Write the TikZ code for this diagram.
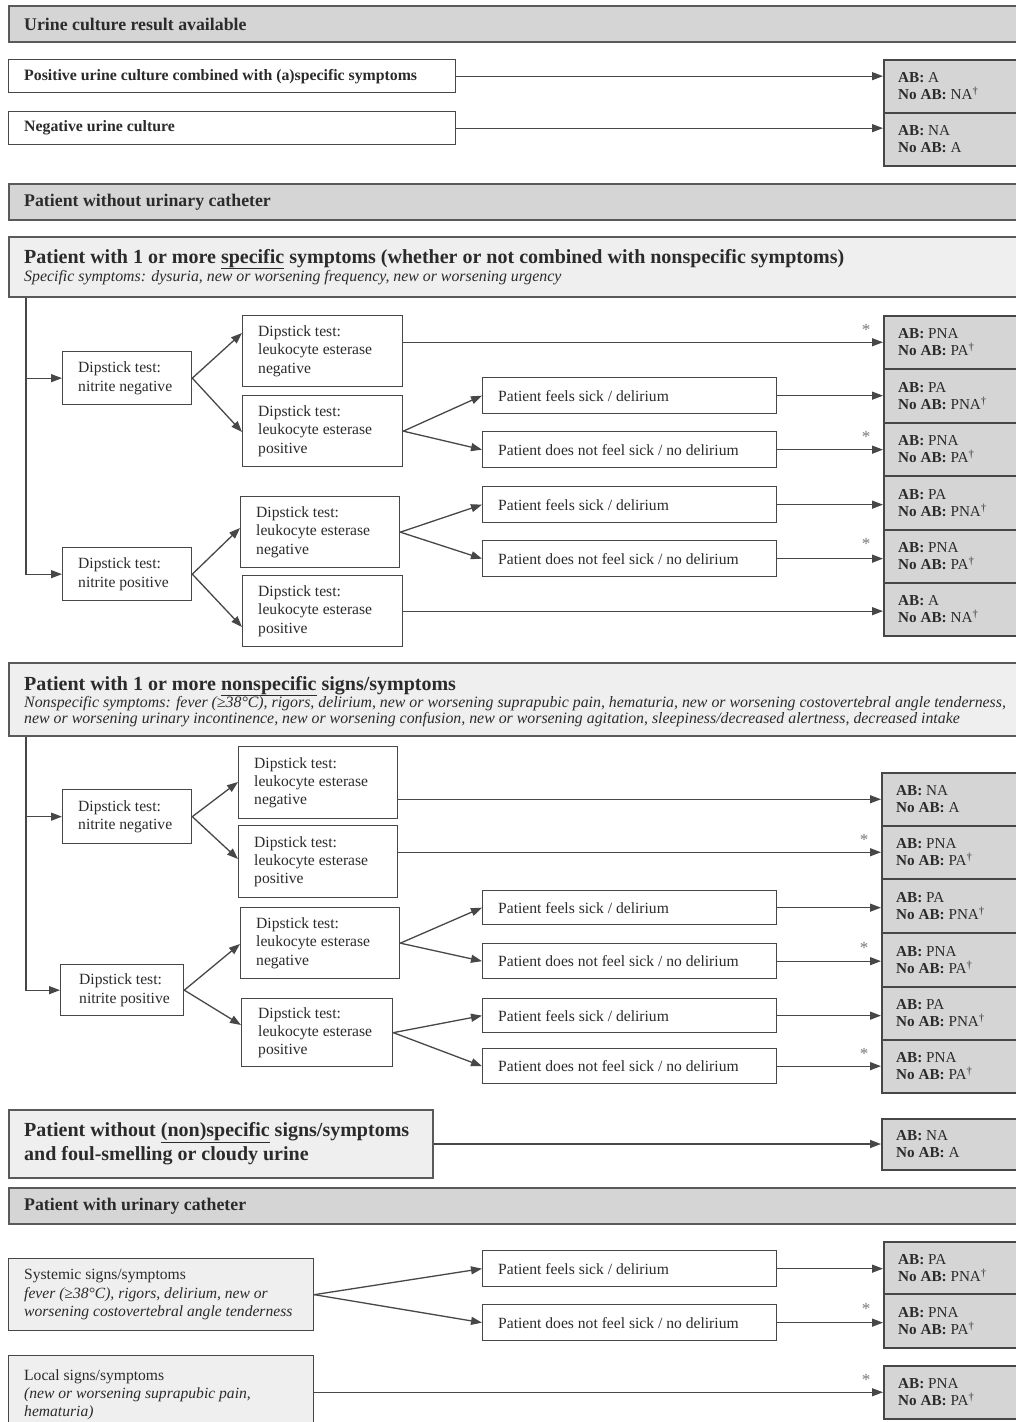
\documentclass[tikz,border=0pt]{standalone}
\usepackage{fontspec}
\setmainfont{Liberation Serif}
\usetikzlibrary{arrows.meta,calc}
\definecolor{tc}{HTML}{2B2B2B}
\definecolor{lc}{HTML}{474747}
\definecolor{hl}{HTML}{5A5A5A}
\definecolor{dk}{HTML}{D5D5D5}
\definecolor{lt}{HTML}{EFEFEF}
\definecolor{astc}{HTML}{7A7A7A}
\newcommand\fs[2]{\fontsize{#1}{#2}\selectfont}
\newcommand\dg{\textsuperscript{†}}
\newcommand\abtxt[2]{\textbf{AB:} #1\\\textbf{No AB:} #2}
% name, box style, text style, x, y, w, h, text offset, text
\newcommand\mkbox[9]{%
  \node[#2, anchor=north west, minimum width=#6pt, minimum height=#7pt] (#1) at (#4,#5) {};%
  \node[txt, #3] (#1t) at ([xshift=#8pt]#1.west) {#9};}
\tikzset{
  txt/.style={inner sep=0pt, anchor=west, align=left, text=tc, font=\fs{15.6}{18.3}},
  ht/.style={font=\fs{17.8}{21}\bfseries},
  bt/.style={font=\fs{15.8}{18.3}\bfseries},
  rt/.style={font=\fs{15.2}{17.3}},
  tt/.style={font=\fs{20}{24}\bfseries},
  plain/.style={},
  hdr/.style={draw=hl, line width=2pt, fill=dk, inner sep=0pt},
  sec/.style={draw=hl, line width=2pt, fill=lt, inner sep=0pt},
  wbox/.style={draw=lc, line width=1.3pt, fill=white, inner sep=0pt},
  lbox/.style={draw=lc, line width=1.3pt, fill=lt, inner sep=0pt},
  rbox/.style={draw=lc, line width=1.5pt, fill=dk, inner sep=0pt},
  arr/.style={draw=lc, line width=1.3pt, -{Triangle[length=11pt,width=8pt]}},
  astn/.style={inner sep=0pt, text=astc, font=\fs{17}{17}},
}
\begin{document}
\begin{tikzpicture}[x=1pt,y=-1pt]
\useasboundingbox (0,0) rectangle (1016,1422);
\clip (0,0) rectangle (1016,1422);
\fill[white] (0,0) rectangle (1016,1422);

% ---------- urine culture ----------
\mkbox{h1}{hdr}{ht}{8}{5}{1060}{36}{16}{Urine culture result available}
\mkbox{pc}{wbox}{bt}{8}{59}{447}{33}{16}{Positive urine culture combined with (a)specific symptoms}
\mkbox{nc}{wbox}{bt}{8}{111}{447}{33}{16}{Negative urine culture}
\mkbox{ra}{rbox}{rt}{883}{59}{200}{53}{15}{\abtxt{A}{NA\dg}}
\mkbox{rb}{rbox}{rt}{883}{112}{200}{53}{15}{\abtxt{NA}{A}}
\draw[arr] (pc.east) -- (pc.east -| ra.west);
\draw[arr] (nc.east) -- (nc.east -| rb.west);

% ---------- without catheter ----------
\mkbox{h2}{hdr}{ht}{8}{183}{1060}{36}{16}{Patient without urinary catheter}

% section 1
\node[sec, anchor=north west, minimum width=1060pt, minimum height=60pt] (sec1) at (8,236) {};
\node[txt, tt, anchor=base west] (sec1a) at (24,263) {Patient with 1 or more \underline{specific} symptoms (whether or not combined with nonspecific symptoms)};
\node[txt, anchor=base west, font=\fs{15.85}{18.3}\itshape] (sec1b) at (24,281.5) {Specific symptoms: dysuria, new or worsening frequency, new or worsening urgency};

\mkbox{nn1}{wbox}{plain}{62}{351}{129}{53}{16}{Dipstick test:\\nitrite negative}
\mkbox{np1}{wbox}{plain}{62}{547}{129}{53}{16}{Dipstick test:\\nitrite positive}
\mkbox{le1}{wbox}{plain}{242}{315}{160}{71}{16}{Dipstick test:\\leukocyte esterase\\negative}
\mkbox{le2}{wbox}{plain}{242}{395}{160}{71}{16}{Dipstick test:\\leukocyte esterase\\positive}
\mkbox{le3}{wbox}{plain}{240}{496}{159}{71}{16}{Dipstick test:\\leukocyte esterase\\negative}
\mkbox{le4}{wbox}{plain}{242}{575}{160}{71}{16}{Dipstick test:\\leukocyte esterase\\positive}
\mkbox{s1}{wbox}{plain}{482}{377}{294}{36}{16}{Patient feels sick / delirium}
\mkbox{s2}{wbox}{plain}{482}{431}{294}{36}{16}{Patient does not feel sick / no delirium}
\mkbox{s3}{wbox}{plain}{482}{486}{294}{36}{16}{Patient feels sick / delirium}
\mkbox{s4}{wbox}{plain}{482}{540}{294}{36}{16}{Patient does not feel sick / no delirium}
\mkbox{r1}{rbox}{rt}{883}{315}{200}{53}{15}{\abtxt{PNA}{PA\dg}}
\mkbox{r2}{rbox}{rt}{883}{368}{200}{54}{15}{\abtxt{PA}{PNA\dg}}
\mkbox{r3}{rbox}{rt}{883}{422}{200}{53}{15}{\abtxt{PNA}{PA\dg}}
\mkbox{r4}{rbox}{rt}{883}{475}{200}{54}{15}{\abtxt{PA}{PNA\dg}}
\mkbox{r5}{rbox}{rt}{883}{529}{200}{53}{15}{\abtxt{PNA}{PA\dg}}
\mkbox{r6}{rbox}{rt}{883}{582}{200}{53}{15}{\abtxt{A}{NA\dg}}

\coordinate (v1) at ([xshift=18pt]sec1.south west);
\draw[arr] (v1) |- (np1.west);
\draw[arr] (v1 |- nn1.west) -- (nn1.west);
\draw[arr] (nn1.east) -- ([yshift=-18pt]le1.north west);
\draw[arr] (nn1.east) -- ([yshift=-37pt]le2.north west);
\draw[arr] (np1.east) -- ([yshift=-32pt]le3.north west);
\draw[arr] (np1.east) -- ([yshift=-52pt]le4.north west);
\draw[arr] (le1.east |- r1.west) -- (r1.west);
\draw[arr] (le2.east) -- (s1.west);
\draw[arr] (le2.east) -- (s2.west);
\draw[arr] (le3.east) -- (s3.west);
\draw[arr] (le3.east) -- (s4.west);
\draw[arr] (s1.east) -- (s1.east -| r2.west);
\draw[arr] (s2.east) -- (s2.east -| r3.west);
\draw[arr] (s3.east) -- (s3.east -| r4.west);
\draw[arr] (s4.east) -- (s4.east -| r5.west);
\draw[arr] (le4.east) -- (le4.east -| r6.west);
\node[astn] (a1) at ([xshift=-17pt,yshift=12pt]r1.west) {*};
\node[astn] (a2) at ([xshift=-17pt,yshift=12pt]r3.west) {*};
\node[astn] (a3) at ([xshift=-17pt,yshift=12pt]r5.west) {*};

% section 2
\node[sec, anchor=north west, minimum width=1060pt, minimum height=73pt] (sec2) at (8,662) {};
\node[txt, tt, anchor=base west] (sec2a) at (24,690) {Patient with 1 or more \underline{nonspecific} signs/symptoms};
\node[txt, anchor=base west, font=\fs{15.85}{16.5}\itshape] (sec2b) at (24,707) {Nonspecific symptoms: fever (≥38°C), rigors, delirium, new or worsening suprapubic pain, hematuria, new or worsening costovertebral angle tenderness,};
\node[txt, anchor=base west, font=\fs{15.85}{16.5}\itshape] (sec2c) at (24,723.5) {new or worsening urinary incontinence, new or worsening confusion, new or worsening agitation, sleepiness/decreased alertness, decreased intake};

\mkbox{nn2}{wbox}{plain}{62}{789}{129}{54}{16}{Dipstick test:\\nitrite negative}
\mkbox{np2}{wbox}{plain}{60}{964}{123}{51}{19}{Dipstick test:\\nitrite positive}
\mkbox{le5}{wbox}{plain}{238}{746}{159}{72}{16}{Dipstick test:\\leukocyte esterase\\negative}
\mkbox{le6}{wbox}{plain}{238}{825}{159}{72}{16}{Dipstick test:\\leukocyte esterase\\positive}
\mkbox{le7}{wbox}{plain}{240}{907}{159}{71}{16}{Dipstick test:\\leukocyte esterase\\negative}
\mkbox{le8}{wbox}{plain}{241}{998}{151}{68}{17}{Dipstick test:\\leukocyte esterase\\positive}
\mkbox{s5}{wbox}{plain}{482}{890}{294}{34}{16}{Patient feels sick / delirium}
\mkbox{s6}{wbox}{plain}{482}{943}{294}{35}{16}{Patient does not feel sick / no delirium}
\mkbox{s7}{wbox}{plain}{482}{998}{294}{34}{16}{Patient feels sick / delirium}
\mkbox{s8}{wbox}{plain}{482}{1048}{294}{35}{16}{Patient does not feel sick / no delirium}
\mkbox{r7}{rbox}{rt}{881}{772}{200}{53}{15}{\abtxt{NA}{A}}
\mkbox{r8}{rbox}{rt}{881}{825}{200}{53}{15}{\abtxt{PNA}{PA\dg}}
\mkbox{r9}{rbox}{rt}{881}{878}{200}{54}{15}{\abtxt{PA}{PNA\dg}}
\mkbox{r10}{rbox}{rt}{881}{932}{200}{54}{15}{\abtxt{PNA}{PA\dg}}
\mkbox{r11}{rbox}{rt}{881}{986}{200}{53}{15}{\abtxt{PA}{PNA\dg}}
\mkbox{r12}{rbox}{rt}{881}{1039}{200}{53}{15}{\abtxt{PNA}{PA\dg}}

\coordinate (v2) at ([xshift=18pt]sec2.south west);
\draw[arr] (v2) |- (np2.west);
\draw[arr] (v2 |- nn2.west) -- (nn2.west);
\draw[arr] (nn2.east) -- ([yshift=-36pt]le5.north west);
\draw[arr] (nn2.east) -- ([yshift=-34pt]le6.north west);
\draw[arr] (np2.east) -- ([yshift=-37pt]le7.north west);
\draw[arr] (np2.east) -- ([yshift=-27pt]le8.north west);
\draw[arr] (le5.east |- r7.west) -- (r7.west);
\draw[arr] (le6.east |- r8.west) -- (r8.west);
\draw[arr] (le7.east) -- (s5.west);
\draw[arr] (le7.east) -- (s6.west);
\draw[arr] (le8.east) -- (s7.west);
\draw[arr] (le8.east) -- (s8.west);
\draw[arr] (s5.east) -- (s5.east -| r9.west);
\draw[arr] (s6.east) -- (s6.east -| r10.west);
\draw[arr] (s7.east) -- (s7.east -| r11.west);
\draw[arr] (s8.east) -- (s8.east -| r12.west);
\node[astn] (a4) at ([xshift=-17pt,yshift=12pt]r8.west) {*};
\node[astn] (a5) at ([xshift=-17pt,yshift=12pt]r10.west) {*};
\node[astn] (a6) at ([xshift=-17pt,yshift=12pt]r12.west) {*};

% without (non)specific
\mkbox{nos}{sec}{tt}{8}{1109}{424}{68}{16}{Patient without \underline{(non)specific} signs/symptoms\\and foul-smelling or cloudy urine}
\mkbox{rn}{rbox}{rt}{881}{1118}{200}{51}{15}{\abtxt{NA}{A}}
\draw[arr] (nos.east) -- (nos.east -| rn.west);

% ---------- with catheter ----------
\mkbox{h3}{hdr}{ht}{8}{1187}{1060}{36}{16}{Patient with urinary catheter}
\mkbox{sys}{lbox}{plain}{8}{1258}{305}{72}{16}{Systemic signs/symptoms\\\textit{fever (≥38°C), rigors, delirium, new or}\\\textit{worsening costovertebral angle tenderness}}
\mkbox{loc}{lbox}{plain}{8}{1355}{305}{78}{16}{Local signs/symptoms\\\textit{(new or worsening suprapubic pain,}\\\textit{hematuria)}}
\mkbox{s9}{wbox}{plain}{482}{1250}{294}{36}{16}{Patient feels sick / delirium}
\mkbox{s10}{wbox}{plain}{482}{1304}{294}{36}{16}{Patient does not feel sick / no delirium}
\mkbox{r13}{rbox}{rt}{883}{1241}{200}{52}{15}{\abtxt{PA}{PNA\dg}}
\mkbox{r14}{rbox}{rt}{883}{1293}{200}{54}{15}{\abtxt{PNA}{PA\dg}}
\mkbox{r15}{rbox}{rt}{883}{1365}{200}{53}{15}{\abtxt{PNA}{PA\dg}}
\draw[arr] (sys.east) -- (s9.west);
\draw[arr] (sys.east) -- (s10.west);
\draw[arr] (s9.east) -- (s9.east -| r13.west);
\draw[arr] (s10.east) -- (s10.east -| r14.west);
\draw[arr] (r15.west -| loc.east) -- (r15.west);
\node[astn] (a7) at ([xshift=-17pt,yshift=12pt]r14.west) {*};
\node[astn] (a8) at ([xshift=-17pt,yshift=12pt]r15.west) {*};
\end{tikzpicture}
\end{document}
